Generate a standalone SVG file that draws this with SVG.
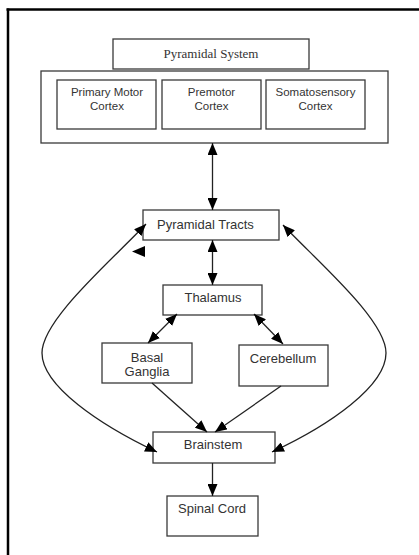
<svg xmlns="http://www.w3.org/2000/svg" width="419" height="555" viewBox="0 0 419 555">
<style>
.box{fill:#fff;stroke:#3a3a3a;stroke-width:1.3}
.t{font-family:"Liberation Sans",Arial,sans-serif;font-size:13px;fill:#333;text-anchor:middle}
.s{font-size:11.5px}
.serif{font-family:"Liberation Serif","Times New Roman",serif;font-size:13px;fill:#333;text-anchor:middle}
.c{fill:none;stroke:#222;stroke-width:1.3}
</style>
<defs>
<marker id="ah" viewBox="0 0 12 10" refX="12" refY="5" markerWidth="12" markerHeight="10" markerUnits="userSpaceOnUse" orient="auto-start-reverse">
<path d="M0,0 L12,5 L0,10 Z" fill="#000"/>
</marker>
</defs>
<rect width="419" height="555" fill="#fff"/>
<g id="frame">
<line x1="6.5" y1="9.5" x2="419" y2="9.5" stroke="#000" stroke-width="2.5"/>
<line x1="8" y1="8.5" x2="8" y2="555" stroke="#000" stroke-width="2.5"/>
</g>
<g id="pyramidal-system">
<rect class="box" x="113" y="39" width="196" height="30"/>
<text class="serif" x="211" y="58">Pyramidal System</text>
</g>
<g id="cortex-group">
<rect class="box" x="41" y="71" width="347" height="72"/>
</g>
<g id="primary-motor">
<rect class="box" x="57" y="80" width="99" height="49"/>
<text class="t s" x="107" y="96">Primary Motor</text>
<text class="t s" x="107" y="110">Cortex</text>
</g>
<g id="premotor">
<rect class="box" x="162" y="80" width="99" height="49"/>
<text class="t s" x="211.5" y="96">Premotor</text>
<text class="t s" x="211.5" y="110">Cortex</text>
</g>
<g id="somatosensory">
<rect class="box" x="266" y="80" width="99" height="49"/>
<text class="t s" x="315.5" y="96">Somatosensory</text>
<text class="t s" x="315.5" y="110">Cortex</text>
</g>
<g id="pyramidal-tracts">
<rect class="box" x="143" y="210" width="136" height="30"/>
<text class="t" x="157" y="229" style="text-anchor:start">Pyramidal Tracts</text>
</g>
<g id="thalamus">
<rect class="box" x="163" y="285" width="99" height="30"/>
<text class="t" x="213" y="302">Thalamus</text>
</g>
<g id="basal-ganglia">
<rect class="box" x="102" y="343" width="90" height="40"/>
<text class="t" x="147" y="362">Basal</text>
<text class="t" x="147" y="376">Ganglia</text>
</g>
<g id="cerebellum">
<rect class="box" x="239" y="345" width="89" height="41"/>
<text class="t" x="283" y="363">Cerebellum</text>
</g>
<g id="brainstem">
<rect class="box" x="153" y="432" width="122" height="31"/>
<text class="t" x="213" y="449">Brainstem</text>
</g>
<g id="spinal-cord">
<rect class="box" x="167" y="496" width="91" height="40"/>
<text class="t" x="212" y="513">Spinal Cord</text>
</g>
<g id="connectors">
<line class="c" x1="212.5" y1="143" x2="212.5" y2="210" marker-start="url(#ah)" marker-end="url(#ah)"/>
<line class="c" x1="212.5" y1="240" x2="212.5" y2="285" marker-start="url(#ah)" marker-end="url(#ah)"/>
<line class="c" x1="177" y1="314" x2="148" y2="343" marker-start="url(#ah)" marker-end="url(#ah)"/>
<line class="c" x1="254" y1="314" x2="283" y2="344" marker-start="url(#ah)" marker-end="url(#ah)"/>
<line class="c" x1="152" y1="383" x2="207" y2="432" marker-end="url(#ah)"/>
<line class="c" x1="281" y1="386" x2="215" y2="432" marker-end="url(#ah)"/>
<line class="c" x1="212.5" y1="463" x2="212.5" y2="496" marker-end="url(#ah)"/>
<path class="c" d="M146,224 C110,262 42,320 42,353 C42,386 100,425 157,452" marker-start="url(#ah)" marker-end="url(#ah)"/>
<path class="c" d="M283,225 C318,262 386,320 386,353 C386,386 330,425 272,452" marker-start="url(#ah)" marker-end="url(#ah)"/>
<path d="M132,251.5 L145,246 L145,257 Z" fill="#000"/>
</g>
</svg>
